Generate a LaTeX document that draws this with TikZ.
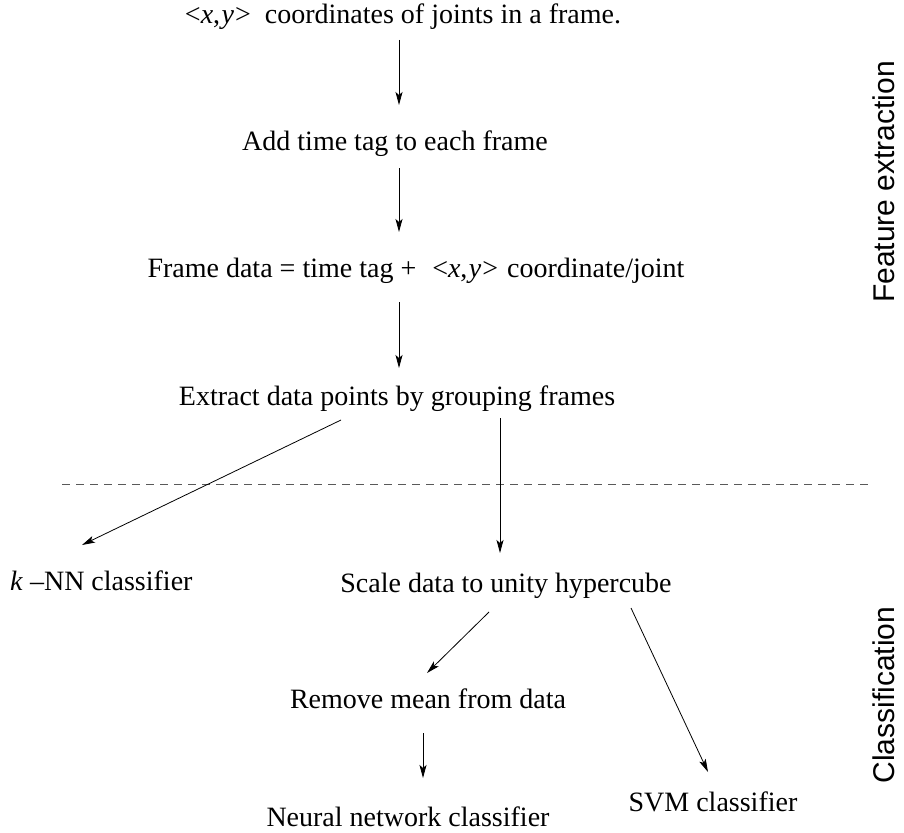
\documentclass[tikz,border=0pt]{standalone}
\usepackage{fontspec}
\setmainfont{Liberation Serif}
\setsansfont{Liberation Sans}
\usetikzlibrary{arrows.meta,calc}

\newcommand{\xypair}{<\textit{x},\hspace{1.5pt}\textit{y}\hspace{1pt}>}

\begin{document}
\begin{tikzpicture}[x=1pt,y=-1pt,
  txt/.style={inner sep=0pt,anchor=base,font=\fontsize{28}{33}\selectfont},
  side/.style={inner sep=0pt,anchor=base,rotate=90,font=\sffamily\fontsize{30}{36}\selectfont},
  arr/.style={line width=0.8pt,-{Stealth[length=13pt,width=7pt,inset=3pt]}},
  sep/.style={line width=0.7pt,draw=black!65,dash pattern=on 8pt off 6pt}]
\useasboundingbox (0,0) rectangle (904,832);

% feature extraction stage
\node[txt] (t1) at (403,24) {\xypair\ \ coordinates of joints in a frame.};
\node[txt] (t2) at (395,150) {Add time tag to each frame};
\node[txt] (t3) at (416,277) {Frame data = time tag +\hspace{16pt}\xypair\hspace{9pt}coordinate/joint};
\node[txt] (t4) at (397,405) {Extract data points by grouping frames};

% classification stage
\node[txt,anchor=base west] (knn) at (10,590) {\textit{k} --NN classifier};
\node[txt] (scale) at (506,592) {Scale data to unity hypercube};
\node[txt] (rem) at (428,708) {Remove mean from data};
\node[txt] (nn) at (408,826) {Neural network classifier};
\node[txt] (svm) at (713,811) {SVM classifier};

% stage labels
\node[side] (fe) at (894,182) {Feature extraction};
\node[side] (cl) at (894,695) {Classification};

% boundary between the stages
\draw[sep] (62,484) -- (868,484);

% flow
\draw[arr] ($(t1.base)+(-4,16)$) -- ($(t2.base)+(4,-45)$);
\draw[arr] ($(t2.base)+(4,18)$) -- ($(t3.base)+(-17,-45)$);
\draw[arr] ($(t3.base)+(-17,25)$) -- ($(t4.base)+(2,-37)$);
\draw[arr] ($(t4.base)+(-56,15)$) -- ($(knn.base west)+(72,-45)$);
\draw[arr] ($(t4.base)+(103,13)$) -- ($(scale.base)+(-6,-39)$);
\draw[arr] ($(scale.base)+(-17,20)$) -- ($(rem.base)+(-1,-35)$);
\draw[arr] ($(scale.base)+(125,16)$) -- ($(svm.base)+(-5,-39)$);
\draw[arr] ($(rem.base)+(-5,25)$) -- ($(nn.base)+(15,-48)$);
\end{tikzpicture}
\end{document}
